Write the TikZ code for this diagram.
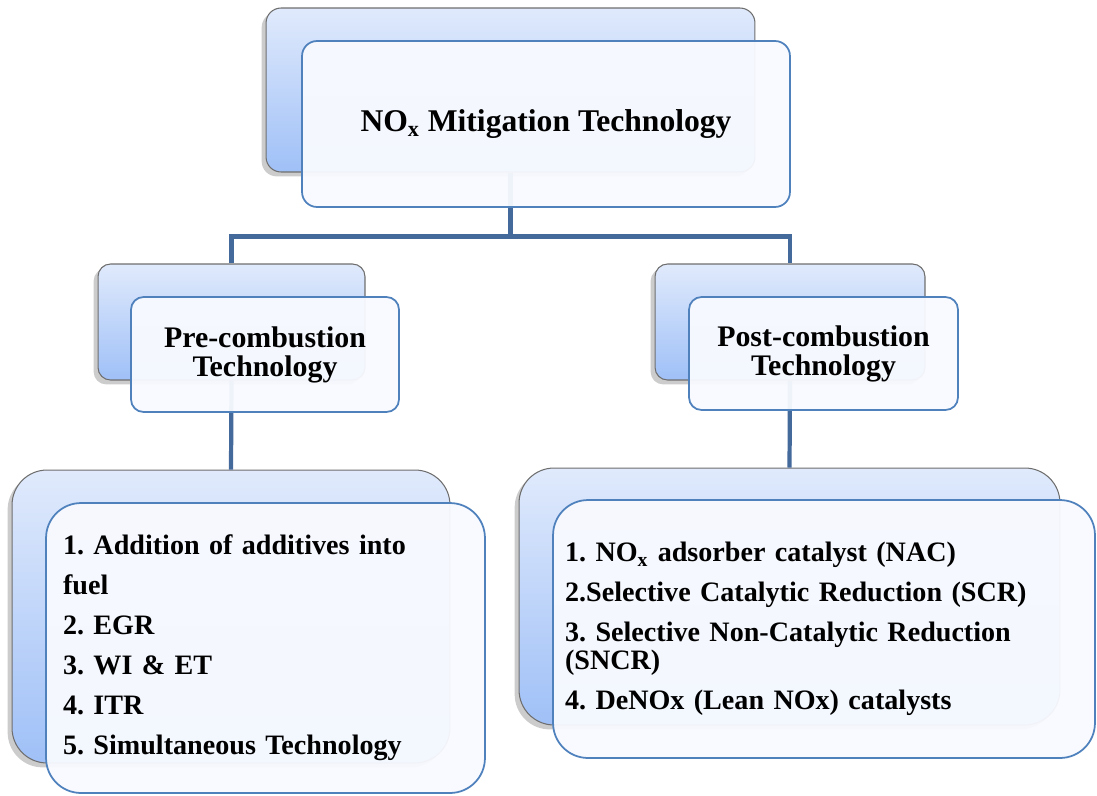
\documentclass[tikz,border=0pt]{standalone}
\usepackage{fontspec}
\setmainfont{Liberation Serif}
\usetikzlibrary{shadows}

\definecolor{backtop}{HTML}{E0EAFC}
\definecolor{backbot}{HTML}{9FC0F7}
\definecolor{backedge}{HTML}{6E6E6E}
\definecolor{frontedge}{HTML}{4F81BD}
\definecolor{frontfill}{HTML}{F8FAFF}
\definecolor{linkcol}{HTML}{44699B}

\begin{document}
\frenchspacing
\begin{tikzpicture}[x=0.02cm,y=-0.02cm,
    backbox/.style={draw=backedge, line width=0.6pt, top color=backtop, bottom color=backbot,
      drop shadow={shadow xshift=-2.5pt, shadow yshift=-2.5pt, opacity=0.4}},
    frontbox/.style={draw=frontedge, line width=1pt, fill=frontfill, fill opacity=0.95,
      text opacity=1, align=center},
    titletext/.style={font=\fontsize{18}{20}\selectfont\bfseries},
    midtext/.style={font=\fontsize{17}{16.5}\selectfont\bfseries},
    link/.style={draw=linkcol, line width=2.4pt}]
  \useasboundingbox (0,0) rectangle (1097,795);

  % back boxes
  \node [backbox, rounded corners=0.3cm, minimum width=9.78cm, minimum height=3.28cm] (topback) at (510.5,90) {};
  \node [backbox, rounded corners=0.25cm, minimum width=5.34cm, minimum height=2.32cm] (preback) at (231.5,322) {};
  \node [backbox, rounded corners=0.25cm, minimum width=5.40cm, minimum height=2.32cm] (postback) at (790,322) {};
  \node [backbox, rounded corners=0.7cm, minimum width=8.76cm, minimum height=5.86cm] (prelistback) at (231,616.5) {};
  \node [backbox, rounded corners=0.7cm, minimum width=10.82cm, minimum height=5.14cm] (postlistback) at (789.5,596.5) {};

  % connectors
  \draw [link] (topback.south) -- ++(0,64) -| (preback.north);
  \draw [link] (topback.south) -- ++(0,64) -| (postback.north);
  \draw [link] (preback.south) -- (prelistback.north);
  \draw [link] (postback.south) -- (postlistback.north);

  % front boxes
  \node [frontbox, titletext, rounded corners=0.3cm, minimum width=9.76cm, minimum height=3.32cm] (top) at (546,124)
    {NO\textsubscript{x} Mitigation Technology};
  \node [frontbox, midtext, rounded corners=0.25cm, minimum width=5.36cm, minimum height=2.30cm] (pre) at (265,354.5)
    {Pre-combustion\\Technology};
  \node [frontbox, midtext, rounded corners=0.25cm, minimum width=5.38cm, minimum height=2.26cm] (post) at (823.5,353.5)
    {Post-combustion\\Technology};
  \node [frontbox, rounded corners=0.7cm, minimum width=8.78cm, minimum height=5.8cm,
    text width=8.1cm, inner xsep=0.34cm, align=left, font=\fontsize{16}{22.8}\selectfont\bfseries] (prelist) at (265.5,648)
    {1. Addition of additives into\\
     fuel\\
     2. EGR\\
     3. WI \& ET\\
     4. ITR\\
     5. Simultaneous Technology};
  \node [frontbox, rounded corners=0.7cm, minimum width=10.84cm, minimum height=5.16cm,
    text width=10.36cm, inner xsep=0.24cm, align=left, font=\fontsize{16}{16}\selectfont\bfseries] (postlist) at (824,629)
    {1. NO\textsubscript{x} adsorber catalyst (NAC)\\[6.8pt]
     2.Selective Catalytic Reduction (SCR)\\[6.8pt]
     3. Selective Non-Catalytic Reduction\\
     (SNCR)\\[6.8pt]
     4. DeNOx (Lean NOx) catalysts};
\end{tikzpicture}
\end{document}
